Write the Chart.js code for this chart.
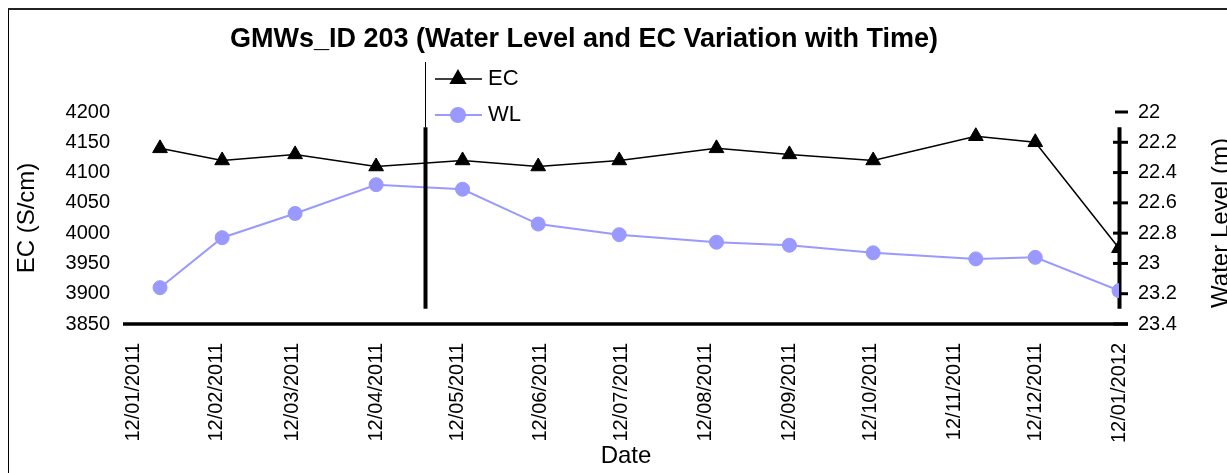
<!DOCTYPE html>
<html>
<head>
<meta charset="utf-8">
<script src="https://cdn.jsdelivr.net/npm/chart.js@4.4.0/dist/chart.umd.min.js"></script>
<style>
  html, body { margin: 0; padding: 0; background: #fff; }
  #wrap { position: relative; width: 1227px; height: 473px; overflow: hidden; }
</style>
</head>
<body>
<div id="wrap">
  <canvas id="chart" width="1227" height="473"></canvas>
</div>
<script>
const chartTitle = "GMWs_ID 203 (Water Level and EC Variation with Time)";

// sampling dates and readings
const sampleDates = ["2011-01-22", "2011-02-14", "2011-03-13", "2011-04-12", "2011-05-14", "2011-06-11",
  "2011-07-11", "2011-08-16", "2011-09-12", "2011-10-13", "2011-11-20", "2011-12-12", "2012-01-12"];
const ecValues = [4140, 4120, 4130, 4110, 4120, 4110, 4120, 4140, 4130, 4120, 4160, 4150, 3975];
const wlValues = [23.16, 22.83, 22.67, 22.48, 22.51, 22.74, 22.81, 22.86, 22.88, 22.93, 22.97, 22.96, 23.18];

// axis ticks
const tickDates = ["2011-01-12", "2011-02-12", "2011-03-12", "2011-04-12", "2011-05-12", "2011-06-12",
  "2011-07-12", "2011-08-12", "2011-09-12", "2011-10-12", "2011-11-12", "2011-12-12", "2012-01-12"];
const tickLabels = ["12/01/2011", "12/02/2011", "12/03/2011", "12/04/2011", "12/05/2011", "12/06/2011",
  "12/07/2011", "12/08/2011", "12/09/2011", "12/10/2011", "12/11/2011", "12/12/2011", "12/01/2012"];
const ecTicks = [3850, 3900, 3950, 4000, 4050, 4100, 4150, 4200];
const wlTicks = [22, 22.2, 22.4, 22.6, 22.8, 23, 23.2, 23.4];
const splitLineDate = "2011-04-30";

const FONT = "'Liberation Sans', Arial, sans-serif";
Chart.defaults.font.family = FONT;
Chart.defaults.color = "#000";

const dayOf = (s) => (Date.parse(s) - Date.parse(tickDates[0])) / 86400000;

// frame, title, odd axis lines, right title, legend
const decorations = {
  id: "decorations",
  beforeDraw(chart) {
    const { ctx } = chart;
    ctx.save();
    ctx.fillStyle = "#fff";
    ctx.fillRect(0, 0, chart.width, chart.height);
    ctx.strokeStyle = "#000";
    ctx.lineWidth = 1;
    ctx.beginPath();
    ctx.moveTo(8.5, chart.height);
    ctx.lineTo(8.5, 9.5);
    ctx.stroke();
    ctx.lineWidth = 2;
    ctx.strokeStyle = "#222";
    ctx.beginPath();
    ctx.moveTo(8, 9);
    ctx.lineTo(chart.width, 9);
    ctx.stroke();

    ctx.fillStyle = "#000";
    ctx.font = "bold 27px " + FONT;
    ctx.textAlign = "center";
    ctx.textBaseline = "middle";
    ctx.fillText(chartTitle, 584, 40);
    ctx.restore();
  },
  beforeDatasetsDraw(chart) {
    const { ctx, chartArea, scales } = chart;
    const yWL = scales.yWL;
    const top = yWL.getPixelForValue(22.1);
    const bot = yWL.getPixelForValue(23.3);
    const r = chartArea.right;
    ctx.save();
    ctx.strokeStyle = "#000";
    // bottom line
    ctx.lineWidth = 3.5;
    ctx.beginPath();
    ctx.moveTo(chartArea.left - 10, chartArea.bottom);
    ctx.lineTo(r + 9, chartArea.bottom);
    ctx.stroke();
    // right axis line with crossing ticks
    ctx.lineWidth = 4;
    ctx.beginPath();
    ctx.moveTo(r + 0.5, top);
    ctx.lineTo(r + 0.5, bot);
    ctx.stroke();
    ctx.lineWidth = 3;
    wlTicks.forEach((v, i) => {
      const y = yWL.getPixelForValue(v);
      ctx.beginPath();
      ctx.moveTo(r + (i === 0 ? -4 : -6), y);
      ctx.lineTo(r + 9, y);
      ctx.stroke();
    });
    ctx.restore();
  },
  afterDatasetsDraw(chart) {
    const { ctx, chartArea, scales } = chart;
    const yWL = scales.yWL;
    const x = Math.round(scales.x.getPixelForValue(dayOf(splitLineDate)));
    ctx.save();
    ctx.strokeStyle = "#000";
    ctx.lineWidth = 1;
    ctx.beginPath();
    ctx.moveTo(x + 0.5, chartArea.top - 50);
    ctx.lineTo(x + 0.5, yWL.getPixelForValue(22.1));
    ctx.stroke();
    ctx.lineWidth = 4;
    ctx.beginPath();
    ctx.moveTo(x + 0.5, yWL.getPixelForValue(22.1));
    ctx.lineTo(x + 0.5, yWL.getPixelForValue(23.3));
    ctx.stroke();
    ctx.restore();
  },
  afterDraw(chart) {
    const { ctx, chartArea } = chart;
    ctx.save();
    // right axis title, reading bottom to top
    ctx.fillStyle = "#000";
    ctx.font = "24px " + FONT;
    ctx.translate(1228, (chartArea.top + chartArea.bottom) / 2 + 5);
    ctx.rotate(-Math.PI / 2);
    ctx.textAlign = "center";
    ctx.textBaseline = "alphabetic";
    ctx.fillText("Water Level (m)", 0, 0);
    ctx.restore();

    // legend
    ctx.save();
    chart.data.datasets.forEach((ds, i) => {
      const y = 79 + i * 36;
      ctx.strokeStyle = ds.borderColor;
      ctx.lineWidth = ds.borderWidth;
      ctx.beginPath();
      ctx.moveTo(435, y);
      ctx.lineTo(482, y);
      ctx.stroke();
      ctx.fillStyle = ds.backgroundColor;
      Chart.helpers.drawPoint(ctx, {
        pointStyle: ds.pointStyle, radius: ds.pointRadius, borderWidth: 1, rotation: 0
      }, 458, y);
      ctx.fillStyle = "#000";
      ctx.font = "22px " + FONT;
      ctx.textAlign = "left";
      ctx.textBaseline = "middle";
      ctx.fillText(ds.label, 488, y);
    });
    ctx.restore();
  }
};

new Chart(document.getElementById("chart"), {
  type: "line",
  data: {
    datasets: [
      {
        label: "EC",
        data: sampleDates.map((d, i) => ({ x: dayOf(d), y: ecValues[i] })),
        yAxisID: "yEC",
        borderColor: "#000000",
        backgroundColor: "#000000",
        borderWidth: 1.5,
        pointStyle: "triangle",
        pointRadius: 8.5,
        pointBorderWidth: 1,
        tension: 0,
      },
      {
        label: "WL",
        data: sampleDates.map((d, i) => ({ x: dayOf(d), y: wlValues[i] })),
        yAxisID: "yWL",
        borderColor: "#9999ff",
        backgroundColor: "#9999ff",
        borderWidth: 2,
        pointStyle: "circle",
        pointRadius: 7,
        pointBorderWidth: 1,
        tension: 0,
      },
    ],
  },
  options: {
    responsive: false,
    animation: false,
    devicePixelRatio: 1,
    layout: { padding: { top: 112, left: 0, right: 0, bottom: 0 } },
    plugins: {
      legend: { display: false },
      title: { display: false },
      tooltip: { enabled: false },
    },
    scales: {
      x: {
        type: "linear",
        min: dayOf(tickDates[0]),
        max: dayOf(tickDates[tickDates.length - 1]),
        afterBuildTicks: (axis) => {
          axis.ticks = tickDates.map((d) => ({ value: dayOf(d) }));
        },
        afterFit: (axis) => { axis.height = 149; },
        ticks: {
          autoSkip: false,
          minRotation: 90,
          maxRotation: 90,
          padding: 19,
          font: { size: 20 },
          callback: (v, i) => tickLabels[i],
        },
        grid: { display: false, drawTicks: false },
        border: { display: false },
        title: { display: true, text: "Date", font: { size: 24 }, padding: { top: 0, bottom: 2 } },
      },
      yEC: {
        type: "linear",
        position: "left",
        min: ecTicks[0],
        max: ecTicks[ecTicks.length - 1],
        afterBuildTicks: (axis) => {
          axis.ticks = ecTicks.map((v) => ({ value: v }));
        },
        afterFit: (axis) => { axis.width = 133; },
        ticks: { padding: 23, font: { size: 20 }, callback: (v) => String(v) },
        grid: { display: false, drawTicks: false },
        border: { display: false },
        title: { display: true, text: "EC (S/cm)", font: { size: 24 }, padding: { top: 13, bottom: 0 } },
      },
      yWL: {
        type: "linear",
        position: "right",
        reverse: true,
        min: wlTicks[0],
        max: wlTicks[wlTicks.length - 1],
        afterBuildTicks: (axis) => {
          axis.ticks = wlTicks.map((v) => ({ value: v }));
        },
        afterFit: (axis) => { axis.width = 108; },
        ticks: { padding: 19, font: { size: 20 }, callback: (v) => String(v) },
        grid: { display: false, drawTicks: false },
        border: { display: false },
      },
    },
  },
  plugins: [decorations],
});
</script>
</body>
</html>
